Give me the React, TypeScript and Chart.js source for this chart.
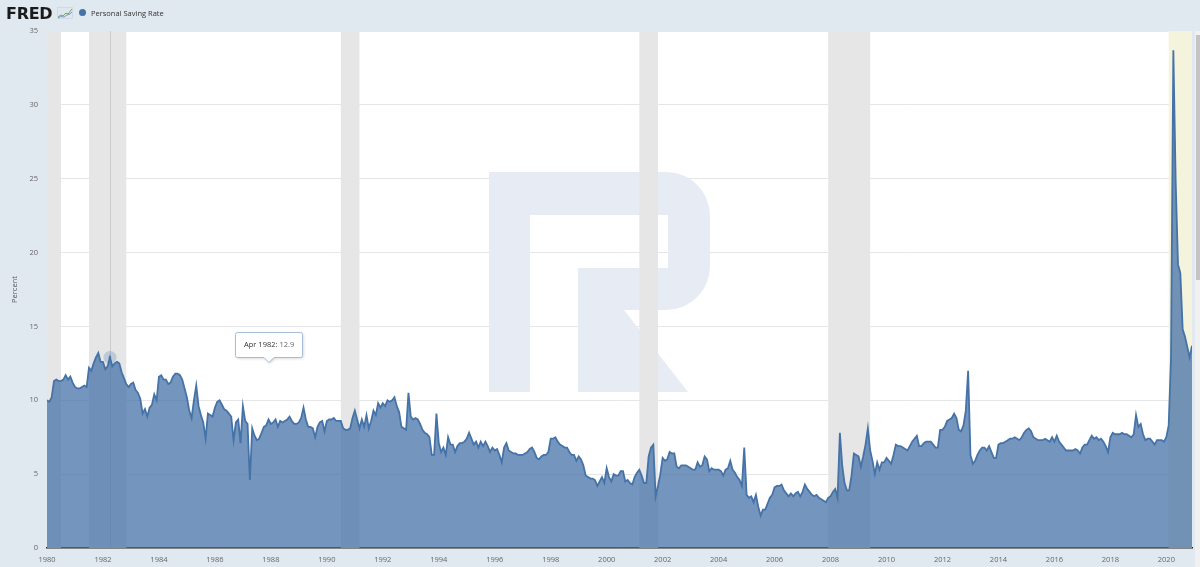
import { useEffect, useRef } from "react";
import { Chart, registerables } from "chart.js";

Chart.register(...registerables);

// ---------- data (monthly, percent) ----------
const START_YEAR = 1980;
const MONTHS = ["Jan", "Feb", "Mar", "Apr", "May", "Jun", "Jul", "Aug", "Sep", "Oct", "Nov", "Dec"];

const y1980 = [10.0, 9.9, 10.2, 11.3, 11.4, 11.3, 11.3, 11.4, 11.7, 11.4, 11.6, 11.2];
const y1981 = [10.9, 10.8, 10.8, 10.9, 11.0, 10.9, 12.2, 12.0, 12.5, 12.9, 13.2, 12.6];
const y1982 = [12.6, 12.1, 12.3, 12.9, 12.3, 12.5, 12.6, 12.5, 11.9, 11.5, 11.1, 10.9];
const y1983 = [11.1, 11.2, 10.7, 10.5, 10.1, 9.1, 9.4, 8.9, 9.5, 9.7, 10.4, 10.0];
const y1984 = [11.6, 11.7, 11.4, 11.4, 11.1, 11.2, 11.6, 11.8, 11.8, 11.7, 11.4, 10.8];
const y1985 = [10.2, 9.3, 8.8, 10.0, 11.0, 9.6, 9.0, 8.5, 7.4, 9.1, 9.0, 8.9];
const y1986 = [9.5, 9.9, 10.0, 9.7, 9.4, 9.3, 9.1, 8.9, 7.3, 8.5, 8.7, 7.1];
const y1987 = [9.6, 8.6, 8.4, 4.6, 8.1, 7.6, 7.3, 7.4, 7.8, 8.2, 8.3, 8.7];
const y1988 = [8.4, 8.5, 8.7, 8.2, 8.6, 8.5, 8.6, 8.7, 8.9, 8.6, 8.4, 8.4];
const y1989 = [8.5, 8.8, 9.5, 8.7, 8.2, 8.2, 8.1, 7.5, 8.2, 8.5, 8.6, 7.9];
const y1990 = [8.6, 8.7, 8.7, 8.8, 8.6, 8.6, 8.6, 8.1, 8.0, 8.0, 8.1, 8.8];
const y1991 = [9.3, 8.7, 8.1, 8.7, 8.2, 9.0, 8.1, 8.6, 9.3, 9.0, 9.8, 9.5];
const y1992 = [9.8, 9.6, 10.0, 9.9, 10.0, 10.2, 9.6, 9.2, 8.2, 8.1, 8.0, 10.5];
const y1993 = [8.9, 8.7, 8.8, 8.7, 8.4, 8.0, 7.8, 7.7, 7.5, 6.3, 6.3, 9.1];
const y1994 = [7.1, 6.5, 6.8, 6.3, 7.5, 7.0, 7.0, 6.5, 6.9, 7.1, 7.1, 7.2];
const y1995 = [7.4, 7.8, 7.4, 7.0, 7.2, 6.8, 7.2, 6.9, 7.2, 6.9, 6.5, 6.8];
const y1996 = [6.6, 6.7, 6.3, 5.8, 6.8, 7.1, 6.6, 6.5, 6.4, 6.4, 6.3, 6.3];
const y1997 = [6.3, 6.4, 6.5, 6.7, 6.8, 6.5, 6.1, 6.0, 6.2, 6.3, 6.3, 6.5];
const y1998 = [7.4, 7.4, 7.5, 7.2, 7.0, 6.9, 6.8, 6.8, 6.5, 6.3, 6.3, 5.9];
const y1999 = [6.2, 6.0, 5.6, 4.9, 4.8, 4.7, 4.7, 4.6, 4.2, 4.5, 4.8, 4.4];
const y2000 = [5.4, 4.8, 4.5, 5.0, 4.9, 4.9, 5.2, 5.2, 4.5, 4.6, 4.4, 4.3];
const y2001 = [4.8, 5.1, 5.3, 4.9, 4.4, 4.4, 6.2, 6.8, 7.0, 3.5, 4.2, 5.0];
const y2002 = [6.1, 5.9, 6.0, 6.5, 6.4, 6.4, 5.5, 5.4, 5.6, 5.6, 5.6, 5.5];
const y2003 = [5.4, 5.3, 5.3, 5.8, 5.5, 5.6, 6.2, 6.0, 5.2, 5.4, 5.3, 5.3];
const y2004 = [5.3, 5.2, 4.9, 5.3, 5.4, 5.9, 5.3, 5.1, 4.8, 4.6, 4.2, 6.8];
const y2005 = [3.6, 3.4, 3.5, 3.1, 3.6, 2.8, 2.2, 2.6, 2.6, 3.0, 3.4, 3.6];
const y2006 = [4.1, 4.2, 4.2, 4.3, 3.9, 3.7, 3.5, 3.7, 3.5, 3.7, 3.8, 3.5];
const y2007 = [3.8, 4.3, 4.0, 3.8, 3.6, 3.5, 3.6, 3.4, 3.3, 3.2, 3.1, 3.4];
const y2008 = [3.5, 3.8, 4.0, 3.4, 7.8, 5.6, 4.4, 3.9, 3.9, 4.9, 6.4, 6.3];
const y2009 = [6.2, 5.5, 6.2, 7.0, 8.1, 6.6, 5.9, 5.0, 5.8, 5.3, 5.8, 5.8];
const y2010 = [6.1, 5.9, 5.7, 6.3, 7.0, 6.9, 6.9, 6.8, 6.7, 6.6, 6.9, 7.2];
const y2011 = [7.4, 7.6, 6.9, 6.9, 7.1, 7.2, 7.2, 7.2, 7.0, 6.8, 6.8, 8.0];
const y2012 = [8.0, 8.2, 8.6, 8.7, 8.8, 9.1, 8.8, 8.0, 7.9, 8.3, 9.3, 12.0];
const y2013 = [6.3, 5.7, 5.9, 6.3, 6.6, 6.8, 6.8, 6.6, 6.9, 6.5, 6.1, 6.1];
const y2014 = [7.0, 7.1, 7.1, 7.2, 7.3, 7.4, 7.4, 7.5, 7.4, 7.3, 7.5, 7.8];
const y2015 = [8.0, 8.1, 7.9, 7.5, 7.4, 7.3, 7.3, 7.3, 7.4, 7.3, 7.2, 7.5];
const y2016 = [7.2, 7.6, 7.2, 7.0, 6.8, 6.6, 6.6, 6.6, 6.6, 6.7, 6.6, 6.4];
const y2017 = [6.8, 7.0, 7.0, 7.3, 7.6, 7.4, 7.5, 7.3, 7.4, 7.2, 6.9, 6.5];
const y2018 = [7.5, 7.8, 7.7, 7.7, 7.7, 7.8, 7.7, 7.7, 7.6, 7.5, 7.7, 9.0];
const y2019 = [8.2, 8.4, 7.7, 7.3, 7.4, 7.4, 7.2, 7.0, 7.3, 7.3, 7.3, 7.2];
const y2020 = [7.5, 8.3, 12.9, 33.7, 24.8, 19.2, 18.6, 14.8, 14.3, 13.6, 12.9, 13.7];

const savingRate = [
  ...y1980, ...y1981, ...y1982, ...y1983, ...y1984, ...y1985, ...y1986, ...y1987,
  ...y1988, ...y1989, ...y1990, ...y1991, ...y1992, ...y1993, ...y1994, ...y1995,
  ...y1996, ...y1997, ...y1998, ...y1999, ...y2000, ...y2001, ...y2002, ...y2003,
  ...y2004, ...y2005, ...y2006, ...y2007, ...y2008, ...y2009, ...y2010, ...y2011,
  ...y2012, ...y2013, ...y2014, ...y2015, ...y2016, ...y2017, ...y2018, ...y2019,
  ...y2020,
];

const yTickValues = [0, 5, 10, 15, 20, 25, 30, 35];
const xTickYears = [
  1980, 1982, 1984, 1986, 1988, 1990, 1992, 1994, 1996, 1998, 2000,
  2002, 2004, 2006, 2008, 2010, 2012, 2014, 2016, 2018, 2020,
];

const recessions = [
  ["1980-01", "1980-07"],
  ["1981-07", "1982-11"],
  ["1990-07", "1991-03"],
  ["2001-03", "2001-11"],
  ["2007-12", "2009-06"],
];
const provisionalRecession = ["2020-02", "2020-12"];
const hoverIndex = 27; // Apr 1982

const SERIES_NAME = "Personal Saving Rate";
const FONT = '"Open Sans", "Liberation Sans", sans-serif';
const LINE_COLOR = "#4572a7";

const ym = (s: string) => {
  const [y, m] = s.split("-").map(Number);
  return y + (m - 1) / 12;
};
const monthValue = (i: number) => START_YEAR + i / 12;

// ---------- plugins ----------
const backgroundPlugin = {
  id: "fredBackground",
  beforeDraw(chart: any) {
    const { ctx, chartArea: a } = chart;
    ctx.save();
    ctx.fillStyle = "#ffffff";
    ctx.fillRect(a.left, a.top, a.right - a.left, a.bottom - a.top);
    ctx.restore();
  },
  beforeDatasetsDraw(chart: any) {
    const { ctx, chartArea: a, scales } = chart;
    const x = scales.x;
    ctx.save();
    // watermark
    ctx.fillStyle = "#e7ecf4";
    ctx.beginPath();
    ctx.rect(489, 172, 41, 220);
    ctx.moveTo(530, 172);
    ctx.lineTo(666, 172);
    ctx.arcTo(710, 172, 710, 216, 44);
    ctx.lineTo(710, 266);
    ctx.arcTo(710, 310, 666, 310, 44);
    ctx.lineTo(578, 310);
    ctx.lineTo(578, 268);
    ctx.lineTo(668, 268);
    ctx.lineTo(668, 215);
    ctx.lineTo(530, 215);
    ctx.closePath();
    ctx.moveTo(578, 310);
    ctx.lineTo(624, 310);
    ctx.lineTo(688, 392);
    ctx.lineTo(578, 392);
    ctx.closePath();
    ctx.fill();
    // recession bands
    ctx.fillStyle = "#e6e6e6";
    recessions.forEach(([s, e]) => {
      const x1 = x.getPixelForValue(ym(s));
      const x2 = x.getPixelForValue(ym(e));
      ctx.fillRect(x1, a.top, x2 - x1, a.bottom - a.top);
    });
    ctx.fillStyle = "#f4f4dd";
    const px1 = x.getPixelForValue(ym(provisionalRecession[0]));
    const px2 = x.getPixelForValue(ym(provisionalRecession[1]));
    ctx.fillRect(px1, a.top, px2 - px1, a.bottom - a.top);
    // hover crosshair
    const hx = Math.round(x.getPixelForValue(monthValue(hoverIndex))) + 0.5;
    ctx.strokeStyle = "#cccccc";
    ctx.lineWidth = 1;
    ctx.beginPath();
    ctx.moveTo(hx, a.top);
    ctx.lineTo(hx, a.bottom);
    ctx.stroke();
    ctx.restore();
  },
  afterDatasetsDraw(chart: any) {
    const { ctx, scales } = chart;
    const px = scales.x.getPixelForValue(monthValue(hoverIndex));
    const py = scales.y.getPixelForValue(savingRate[hoverIndex]);
    ctx.save();
    ctx.fillStyle = "rgba(69,114,167,0.25)";
    ctx.beginPath();
    ctx.arc(px, py, 6.5, 0, Math.PI * 2);
    ctx.fill();
    ctx.fillStyle = LINE_COLOR;
    ctx.beginPath();
    ctx.arc(px, py, 1.3, 0, Math.PI * 2);
    ctx.fill();
    ctx.restore();
  },
  afterDraw(chart: any) {
    const { ctx, scales } = chart;
    const px = scales.x.getPixelForValue(monthValue(hoverIndex));
    const py = scales.y.getPixelForValue(savingRate[hoverIndex]);
    const label = `${MONTHS[hoverIndex % 12]} ${START_YEAR + Math.floor(hoverIndex / 12)}: `;
    const val = savingRate[hoverIndex].toFixed(1);
    ctx.save();
    ctx.font = `7.5px ${FONT}`;
    const w1 = ctx.measureText(label).width;
    const w2 = ctx.measureText(val).width;
    const bw = Math.round(w1 + w2 + 17);
    const bh = 25;
    const cx = px + 159;
    const left = Math.round(cx - bw / 2) + 0.5;
    const top = Math.round(py - 25) + 0.5;
    ctx.shadowColor = "rgba(0,0,0,0.18)";
    ctx.shadowBlur = 3;
    ctx.shadowOffsetX = 1;
    ctx.shadowOffsetY = 1;
    ctx.fillStyle = "#ffffff";
    ctx.strokeStyle = "#a7bdd5";
    ctx.lineWidth = 1;
    ctx.beginPath();
    ctx.moveTo(left + 2, top);
    ctx.lineTo(left + bw - 2, top);
    ctx.quadraticCurveTo(left + bw, top, left + bw, top + 2);
    ctx.lineTo(left + bw, top + bh - 2);
    ctx.quadraticCurveTo(left + bw, top + bh, left + bw - 2, top + bh);
    ctx.lineTo(cx + 5, top + bh);
    ctx.lineTo(cx, top + bh + 5);
    ctx.lineTo(cx - 5, top + bh);
    ctx.lineTo(left + 2, top + bh);
    ctx.quadraticCurveTo(left, top + bh, left, top + bh - 2);
    ctx.lineTo(left, top + 2);
    ctx.quadraticCurveTo(left, top, left + 2, top);
    ctx.closePath();
    ctx.fill();
    ctx.shadowColor = "transparent";
    ctx.stroke();
    ctx.textBaseline = "middle";
    ctx.fillStyle = "#333333";
    const tx = left + 8.5;
    ctx.fillText(label, tx, top + bh / 2);
    ctx.fillStyle = "#666666";
    ctx.fillText(val, tx + w1, top + bh / 2);
    ctx.restore();
  },
};

export default function App() {
  const canvasRef = useRef<HTMLCanvasElement | null>(null);

  useEffect(() => {
    document.body.style.margin = "0";
    const canvas = canvasRef.current;
    if (!canvas) return;
    const points = savingRate.map((v, i) => ({ x: monthValue(i), y: v }));
    const chart = new Chart(canvas, {
      type: "line",
      data: {
        datasets: [
          {
            label: SERIES_NAME,
            data: points,
            borderColor: LINE_COLOR,
            borderWidth: 1.8,
            backgroundColor: "rgba(69,114,167,0.75)",
            fill: "origin",
            pointRadius: 0,
            tension: 0,
          },
        ],
      },
      options: {
        animation: false,
        responsive: false,
        devicePixelRatio: 1,
        layout: { padding: { top: 31, right: 8, left: 0, bottom: 0 } },
        plugins: {
          legend: { display: false },
          tooltip: { enabled: false },
        },
        events: [],
        scales: {
          x: {
            type: "linear",
            min: monthValue(0),
            max: monthValue(savingRate.length - 1),
            afterBuildTicks: (s: any) => {
              s.ticks = xTickYears.map((v) => ({ value: v }));
            },
            afterFit: (s: any) => {
              s.height = 19;
            },
            grid: { display: false, drawTicks: false },
            border: { display: true, color: "#222222", width: 1.5 },
            ticks: {
              autoSkip: false,
              maxRotation: 0,
              padding: 7,
              color: "#666666",
              font: { family: FONT, size: 7.5 },
              callback: (v: any) => String(v),
            },
          },
          y: {
            type: "linear",
            min: 0,
            max: 35,
            afterBuildTicks: (s: any) => {
              s.ticks = yTickValues.map((v) => ({ value: v }));
            },
            afterFit: (s: any) => {
              s.width = 47;
            },
            grid: { color: "#e6e6e6", drawTicks: false, lineWidth: 1 },
            border: { display: false },
            ticks: {
              padding: 9,
              color: "#666666",
              font: { family: FONT, size: 7.5 },
              callback: (v: any) => String(v),
            },
            title: {
              display: true,
              text: "Percent",
              color: "#555555",
              font: { family: FONT, size: 7.5 },
              padding: { top: 10, bottom: 0 },
            },
          },
        },
      },
      plugins: [backgroundPlugin],
    } as any);
    return () => chart.destroy();
  }, []);

  return (
    <div
      style={{
        position: "relative",
        width: 1200,
        height: 567,
        background: "#e1e9f0",
        overflow: "hidden",
      }}
    >
      <canvas
        ref={canvasRef}
        width={1200}
        height={567}
        style={{ position: "absolute", left: 0, top: 0, width: 1200, height: 567 }}
      />
      <div
        style={{
          position: "absolute",
          left: 6,
          top: 6,
          font: 'bold 16px "DejaVu Sans", sans-serif',
          lineHeight: "16px",
          letterSpacing: "-0.3px",
          color: "#1b1b1b",
        }}
      >
        FRED
      </div>
      <svg
        style={{ position: "absolute", left: 57, top: 7 }}
        width={16}
        height={12}
        viewBox="0 0 16 12"
      >
        <rect x={0.5} y={0.5} width={15} height={11} fill="#dfe6ee" stroke="#c6d0dc" strokeWidth={0.6} />
        <polyline points="1,10 4,8 6,9 9,6 11,7 15,2" fill="none" stroke="#6fa85a" strokeWidth={1} />
        <polyline points="1,11 4,9.5 7,10 10,8 13,7 15,5" fill="none" stroke="#5b86b8" strokeWidth={0.8} />
      </svg>
      <div
        style={{
          position: "absolute",
          left: 78.7,
          top: 9,
          width: 7,
          height: 7,
          borderRadius: "50%",
          background: LINE_COLOR,
        }}
      />
      <div
        style={{
          position: "absolute",
          left: 91,
          top: 6.5,
          font: `7.5px ${FONT}`,
          lineHeight: "12px",
          color: "#333333",
          whiteSpace: "nowrap",
        }}
      >
        {SERIES_NAME}
      </div>
      <div style={{ position: "absolute", left: 1195, top: 31, width: 5, height: 536, background: "#f1f1f1" }} />
      <div style={{ position: "absolute", left: 1196, top: 35, width: 4, height: 245, background: "#c4c4c4" }} />
    </div>
  );
}
